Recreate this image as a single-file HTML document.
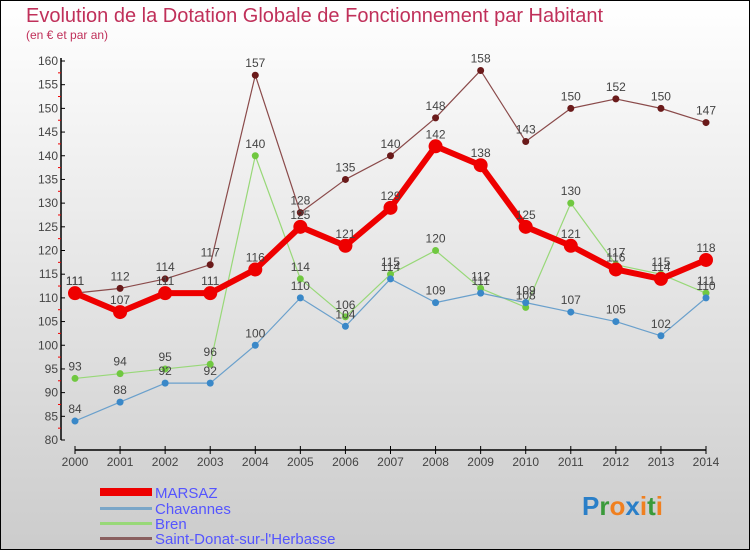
<!DOCTYPE html>
<html><head><meta charset="utf-8"><style>
body{margin:0;}
#c{width:750px;height:550px;position:relative;font-family:"Liberation Sans",sans-serif;}
svg text{font-family:"Liberation Sans",sans-serif;}
</style></head><body>
<div id="c">
<svg id="s" width="750" height="550" xmlns="http://www.w3.org/2000/svg">
<defs><linearGradient id="bg" x1="0" y1="0" x2="0" y2="1"><stop offset="0" stop-color="#ffffff"/><stop offset="1" stop-color="#cccccc"/></linearGradient></defs>
<rect x="0.5" y="0.5" width="749" height="549" fill="url(#bg)" stroke="#000"/>
<text x="26" y="22" font-size="20" fill="#c0305a">Evolution de la Dotation Globale de Fonctionnement par Habitant</text>
<text x="26" y="39" font-size="12" fill="#c0305a">(en € et par an)</text>
<g id="axes"></g><g id="series"></g>
<g>
<rect x="100" y="488" width="52" height="8" fill="#e00"/>
<text x="155" y="498" font-size="15" fill="#5555ff">MARSAZ</text>
<rect x="100" y="507" width="52" height="3" fill="#7aa6c8"/>
<text x="155" y="514" font-size="15" fill="#5555ff">Chavannes</text>
<rect x="100" y="522" width="52" height="3" fill="#98d878"/>
<text x="155" y="529" font-size="15" fill="#5555ff">Bren</text>
<rect x="100" y="537" width="52" height="3" fill="#8a6060"/>
<text x="155" y="544" font-size="15" fill="#5555ff">Saint-Donat-sur-l'Herbasse</text>
</g>
<text x="582" y="515" font-size="26" font-weight="bold"><tspan fill="#2a7fc8">P</tspan><tspan fill="#3a9a3a">r</tspan><tspan fill="#f08020">o</tspan><tspan fill="#2a7fc8">x</tspan><tspan fill="#f08020">i</tspan><tspan fill="#3a9a3a">t</tspan><tspan fill="#f08020">i</tspan></text>
</svg></div>
<script>
const years=[2000,2001,2002,2003,2004,2005,2006,2007,2008,2009,2010,2011,2012,2013,2014];
const marsaz=[111,107,111,111,116,125,121,129,142,138,125,121,116,114,118];
const chavannes=[84,88,92,92,100,110,104,114,109,111,109,107,105,102,110];
const bren=[93,94,95,96,140,114,106,115,120,112,108,130,117,115,111];
const saintDonat=[111,112,114,117,157,128,135,140,148,158,143,150,152,150,147];
const yTicks=[80,85,90,95,100,105,110,115,120,125,130,135,140,145,150,155,160];
const NS="http://www.w3.org/2000/svg";
const xs=i=>75+i*(706-75)/(years.length-1);
const ys=v=>440-(v-80)*(440-61)/80;
function mk(t,a,p){const e=document.createElementNS(NS,t);for(const k in a)e.setAttribute(k,a[k]);p.appendChild(e);return e;}
const ax=document.getElementById('axes');
const yl=mk('line',{x1:61,y1:58,x2:61,y2:440,stroke:'#000','stroke-width':1.5},ax);


yTicks.forEach(v=>{
 mk('line',{x1:61,y1:ys(v),x2:65,y2:ys(v),stroke:'#000'},ax);
 if(v<160)mk('line',{x1:58,y1:ys(v+2.5),x2:61,y2:ys(v+2.5),stroke:'#e00'},ax);
 const t=mk('text',{x:58,y:ys(v)+4,'font-size':12,fill:'#444','text-anchor':'end'},ax);t.textContent=v;
 
 
});
const xl=mk('line',{x1:75,y1:450,x2:706,y2:450,stroke:'#000','stroke-width':1.5},ax);


years.forEach((y,i)=>{
 mk('line',{x1:xs(i),y1:446,x2:xs(i),y2:454,stroke:'#000'},ax);
 const t=mk('text',{x:xs(i),y:466,'font-size':12,fill:'#444','text-anchor':'middle'},ax);t.textContent=y;
 
 
});
const sg=document.getElementById('series');
function draw(arr,name,col,dot,w,r){
 const g=mk('g',{},sg);
 
 
 mk('polyline',{points:arr.map((v,i)=>xs(i)+','+ys(v)).join(' '),fill:'none',stroke:col,'stroke-width':w,'stroke-linejoin':'round'},g);
 arr.forEach((v,i)=>{
  const c=mk('circle',{cx:xs(i),cy:ys(v),r:r,fill:dot},g);
  
  
  const t=mk('text',{x:xs(i),y:ys(v)-8,'font-size':12,fill:'#444','text-anchor':'middle'},g);t.textContent=v;
  
  
 });
}
draw(saintDonat,'saint-donat','#8a4a4a','#6a1a1a',1.2,3.5);
draw(bren,'bren','#98d878','#70c840',1.2,3.5);
draw(chavannes,'chavannes','#6aa0cc','#3a88c8',1.2,3.5);
draw(marsaz,'marsaz','#ee0000','#ee0000',6,7);
</script>
</body></html>
